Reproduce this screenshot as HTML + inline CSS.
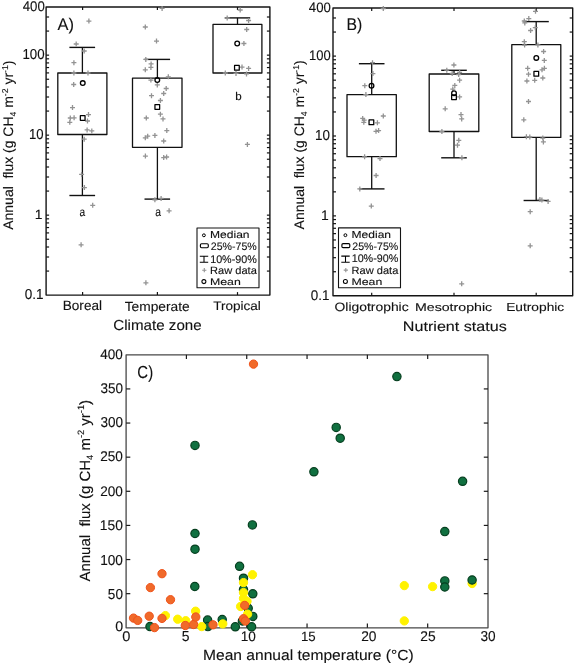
<!DOCTYPE html>
<html><head><meta charset="utf-8"><style>html,body{margin:0;padding:0;background:#fff;}svg{display:block;}</style></head><body>
<svg width="575" height="665" viewBox="0 0 575 665" font-family="&quot;Liberation Sans&quot;, sans-serif" fill="#111111" stroke-linejoin="round">
<rect width="575" height="665" fill="#fff"/>
<rect x="46.1" y="7" width="223.8" height="288.1" fill="none" stroke="#141414" stroke-width="1.4"/>
<line x1="46.1" y1="271.08" x2="49.1" y2="271.08" stroke="#141414" stroke-width="1.2"/>
<line x1="269.9" y1="271.08" x2="266.9" y2="271.08" stroke="#141414" stroke-width="1.2"/>
<line x1="46.1" y1="257" x2="49.1" y2="257" stroke="#141414" stroke-width="1.2"/>
<line x1="269.9" y1="257" x2="266.9" y2="257" stroke="#141414" stroke-width="1.2"/>
<line x1="46.1" y1="247" x2="49.1" y2="247" stroke="#141414" stroke-width="1.2"/>
<line x1="269.9" y1="247" x2="266.9" y2="247" stroke="#141414" stroke-width="1.2"/>
<line x1="46.1" y1="239.25" x2="49.1" y2="239.25" stroke="#141414" stroke-width="1.2"/>
<line x1="269.9" y1="239.25" x2="266.9" y2="239.25" stroke="#141414" stroke-width="1.2"/>
<line x1="46.1" y1="232.91" x2="49.1" y2="232.91" stroke="#141414" stroke-width="1.2"/>
<line x1="269.9" y1="232.91" x2="266.9" y2="232.91" stroke="#141414" stroke-width="1.2"/>
<line x1="46.1" y1="227.56" x2="49.1" y2="227.56" stroke="#141414" stroke-width="1.2"/>
<line x1="269.9" y1="227.56" x2="266.9" y2="227.56" stroke="#141414" stroke-width="1.2"/>
<line x1="46.1" y1="222.92" x2="49.1" y2="222.92" stroke="#141414" stroke-width="1.2"/>
<line x1="269.9" y1="222.92" x2="266.9" y2="222.92" stroke="#141414" stroke-width="1.2"/>
<line x1="46.1" y1="218.83" x2="49.1" y2="218.83" stroke="#141414" stroke-width="1.2"/>
<line x1="269.9" y1="218.83" x2="266.9" y2="218.83" stroke="#141414" stroke-width="1.2"/>
<line x1="46.1" y1="215.16" x2="49.1" y2="215.16" stroke="#141414" stroke-width="1.2"/>
<line x1="269.9" y1="215.16" x2="266.9" y2="215.16" stroke="#141414" stroke-width="1.2"/>
<line x1="46.1" y1="191.08" x2="49.1" y2="191.08" stroke="#141414" stroke-width="1.2"/>
<line x1="269.9" y1="191.08" x2="266.9" y2="191.08" stroke="#141414" stroke-width="1.2"/>
<line x1="46.1" y1="177" x2="49.1" y2="177" stroke="#141414" stroke-width="1.2"/>
<line x1="269.9" y1="177" x2="266.9" y2="177" stroke="#141414" stroke-width="1.2"/>
<line x1="46.1" y1="167" x2="49.1" y2="167" stroke="#141414" stroke-width="1.2"/>
<line x1="269.9" y1="167" x2="266.9" y2="167" stroke="#141414" stroke-width="1.2"/>
<line x1="46.1" y1="159.25" x2="49.1" y2="159.25" stroke="#141414" stroke-width="1.2"/>
<line x1="269.9" y1="159.25" x2="266.9" y2="159.25" stroke="#141414" stroke-width="1.2"/>
<line x1="46.1" y1="152.91" x2="49.1" y2="152.91" stroke="#141414" stroke-width="1.2"/>
<line x1="269.9" y1="152.91" x2="266.9" y2="152.91" stroke="#141414" stroke-width="1.2"/>
<line x1="46.1" y1="147.56" x2="49.1" y2="147.56" stroke="#141414" stroke-width="1.2"/>
<line x1="269.9" y1="147.56" x2="266.9" y2="147.56" stroke="#141414" stroke-width="1.2"/>
<line x1="46.1" y1="142.92" x2="49.1" y2="142.92" stroke="#141414" stroke-width="1.2"/>
<line x1="269.9" y1="142.92" x2="266.9" y2="142.92" stroke="#141414" stroke-width="1.2"/>
<line x1="46.1" y1="138.83" x2="49.1" y2="138.83" stroke="#141414" stroke-width="1.2"/>
<line x1="269.9" y1="138.83" x2="266.9" y2="138.83" stroke="#141414" stroke-width="1.2"/>
<line x1="46.1" y1="135.16" x2="49.1" y2="135.16" stroke="#141414" stroke-width="1.2"/>
<line x1="269.9" y1="135.16" x2="266.9" y2="135.16" stroke="#141414" stroke-width="1.2"/>
<line x1="46.1" y1="111.08" x2="49.1" y2="111.08" stroke="#141414" stroke-width="1.2"/>
<line x1="269.9" y1="111.08" x2="266.9" y2="111.08" stroke="#141414" stroke-width="1.2"/>
<line x1="46.1" y1="97" x2="49.1" y2="97" stroke="#141414" stroke-width="1.2"/>
<line x1="269.9" y1="97" x2="266.9" y2="97" stroke="#141414" stroke-width="1.2"/>
<line x1="46.1" y1="87" x2="49.1" y2="87" stroke="#141414" stroke-width="1.2"/>
<line x1="269.9" y1="87" x2="266.9" y2="87" stroke="#141414" stroke-width="1.2"/>
<line x1="46.1" y1="79.25" x2="49.1" y2="79.25" stroke="#141414" stroke-width="1.2"/>
<line x1="269.9" y1="79.25" x2="266.9" y2="79.25" stroke="#141414" stroke-width="1.2"/>
<line x1="46.1" y1="72.91" x2="49.1" y2="72.91" stroke="#141414" stroke-width="1.2"/>
<line x1="269.9" y1="72.91" x2="266.9" y2="72.91" stroke="#141414" stroke-width="1.2"/>
<line x1="46.1" y1="67.56" x2="49.1" y2="67.56" stroke="#141414" stroke-width="1.2"/>
<line x1="269.9" y1="67.56" x2="266.9" y2="67.56" stroke="#141414" stroke-width="1.2"/>
<line x1="46.1" y1="62.92" x2="49.1" y2="62.92" stroke="#141414" stroke-width="1.2"/>
<line x1="269.9" y1="62.92" x2="266.9" y2="62.92" stroke="#141414" stroke-width="1.2"/>
<line x1="46.1" y1="58.83" x2="49.1" y2="58.83" stroke="#141414" stroke-width="1.2"/>
<line x1="269.9" y1="58.83" x2="266.9" y2="58.83" stroke="#141414" stroke-width="1.2"/>
<line x1="46.1" y1="55.16" x2="49.1" y2="55.16" stroke="#141414" stroke-width="1.2"/>
<line x1="269.9" y1="55.16" x2="266.9" y2="55.16" stroke="#141414" stroke-width="1.2"/>
<line x1="46.1" y1="31.08" x2="49.1" y2="31.08" stroke="#141414" stroke-width="1.2"/>
<line x1="269.9" y1="31.08" x2="266.9" y2="31.08" stroke="#141414" stroke-width="1.2"/>
<line x1="46.1" y1="17" x2="49.1" y2="17" stroke="#141414" stroke-width="1.2"/>
<line x1="269.9" y1="17" x2="266.9" y2="17" stroke="#141414" stroke-width="1.2"/>
<line x1="82.6" y1="295.1" x2="82.6" y2="292.1" stroke="#141414" stroke-width="1.2"/>
<line x1="82.6" y1="7" x2="82.6" y2="10" stroke="#141414" stroke-width="1.2"/>
<line x1="157.4" y1="295.1" x2="157.4" y2="292.1" stroke="#141414" stroke-width="1.2"/>
<line x1="157.4" y1="7" x2="157.4" y2="10" stroke="#141414" stroke-width="1.2"/>
<line x1="237.5" y1="295.1" x2="237.5" y2="292.1" stroke="#141414" stroke-width="1.2"/>
<line x1="237.5" y1="7" x2="237.5" y2="10" stroke="#141414" stroke-width="1.2"/>
<line x1="82.4" y1="47.4" x2="82.4" y2="73" stroke="#111111" stroke-width="1.3"/>
<line x1="69.4" y1="47.4" x2="95.1" y2="47.4" stroke="#111111" stroke-width="1.4"/>
<line x1="82.4" y1="134.5" x2="82.4" y2="195.5" stroke="#111111" stroke-width="1.3"/>
<line x1="69.4" y1="195.5" x2="95.1" y2="195.5" stroke="#111111" stroke-width="1.4"/>
<rect x="57.8" y="73" width="49.1" height="61.5" fill="none" stroke="#111111" stroke-width="1.3"/>
<line x1="157.4" y1="59.4" x2="157.4" y2="78.1" stroke="#111111" stroke-width="1.3"/>
<line x1="144.5" y1="59.4" x2="170.1" y2="59.4" stroke="#111111" stroke-width="1.4"/>
<line x1="157.4" y1="147.3" x2="157.4" y2="199.1" stroke="#111111" stroke-width="1.3"/>
<line x1="144.5" y1="199.1" x2="170.1" y2="199.1" stroke="#111111" stroke-width="1.4"/>
<rect x="132.5" y="78.1" width="49.5" height="69.2" fill="none" stroke="#111111" stroke-width="1.3"/>
<line x1="237.5" y1="17.9" x2="237.5" y2="24.4" stroke="#111111" stroke-width="1.3"/>
<line x1="224.8" y1="17.9" x2="250.2" y2="17.9" stroke="#111111" stroke-width="1.4"/>
<rect x="213" y="24.4" width="48.9" height="48.6" fill="none" stroke="#111111" stroke-width="1.3"/>
<path d="M86.4 21.1h5M88.9 18.6v5M73.7 44h5M76.2 41.5v5M81.7 51h5M84.2 48.5v5M71.4 62.7h5M73.9 60.2v5M71.4 73h5M73.9 70.5v5M85.5 73h5M88 70.5v5M71.2 84.5h5M73.7 82v5M70 107.6h5M72.5 105.1v5M67.8 118h5M70.3 115.5v5M71.6 117.8h5M74.1 115.3v5M67.3 122.3h5M69.8 119.8v5M86 114.6h5M88.5 112.1v5M85 121h5M87.5 118.5v5M84.6 129.9h5M87.1 127.4v5M89.3 130.9h5M91.8 128.4v5M81.7 139.2h5M84.2 136.7v5M79.1 174.4h5M81.6 171.9v5M81.9 187.6h5M84.4 185.1v5M90.2 205.3h5M92.7 202.8v5M78.6 244.8h5M81.1 242.3v5M159.6 8.4h5M162.1 5.9v5M142.8 27h5M145.3 24.5v5M154 41.1h5M156.5 38.6v5M143.3 59.4h5M145.8 56.9v5M148.6 63.9h5M151.1 61.4v5M148.4 67.4h5M150.9 64.9v5M142.8 69.8h5M145.3 67.3v5M165.8 76.8h5M168.3 74.3v5M148.4 80.1h5M150.9 77.6v5M154.8 84.9h5M157.3 82.4v5M163.7 88.5h5M166.2 86v5M161.2 93.5h5M163.7 91v5M149 95.7h5M151.5 93.2v5M157.9 100.5h5M160.4 98v5M157.9 114.2h5M160.4 111.7v5M160.5 118.9h5M163 116.4v5M143.8 118h5M146.3 115.5v5M164.3 130.6h5M166.8 128.1v5M142.8 137.8h5M145.3 135.3v5M145.2 136.2h5M147.7 133.7v5M152.4 135.4h5M154.9 132.9v5M161.2 141h5M163.7 138.5v5M142.9 156.1h5M145.4 153.6v5M161.2 157.6h5M163.7 155.1v5M164.1 157h5M166.6 154.5v5M152.4 199.8h5M154.9 197.3v5M158.6 198.4h5M161.1 195.9v5M166.6 210.8h5M169.1 208.3v5M143.4 282.8h5M145.9 280.3v5M237.7 10h5M240.2 7.5v5M224.7 18h5M227.2 15.5v5M246.1 20.5h5M248.6 18v5M244.2 29.5h5M246.7 27v5M241.4 43.5h5M243.9 41v5M239.5 67.1h5M242 64.6v5M246.1 68.4h5M248.6 65.9v5M222.8 73h5M225.3 70.5v5M233.5 73.4h5M236 70.9v5M244 73.9h5M246.5 71.4v5M244.9 144.4h5M247.4 141.9v5" stroke="#939393" stroke-width="1.3" fill="none"/>
<circle cx="82.75" cy="83.1" r="2.35" fill="none" stroke="#000" stroke-width="1.3"/>
<rect x="80.35" y="115.65" width="4.7" height="4.7" fill="none" stroke="#000" stroke-width="1.25"/>
<circle cx="157.3" cy="80.1" r="2.35" fill="none" stroke="#000" stroke-width="1.3"/>
<rect x="154.95" y="104.55" width="4.7" height="4.7" fill="none" stroke="#000" stroke-width="1.25"/>
<circle cx="237.2" cy="43.5" r="2.35" fill="none" stroke="#000" stroke-width="1.3"/>
<rect x="234.55" y="65.45" width="4.7" height="4.7" fill="none" stroke="#000" stroke-width="1.25"/>
<rect x="197" y="228" width="62.0" height="59.8" fill="#fff" stroke="#141414" stroke-width="1.1"/>
<circle cx="203.9" cy="235.3" r="1.45" fill="none" stroke="#000" stroke-width="1"/>
<rect x="200.4" y="243.7" width="7.9" height="4.0" rx="1.2" fill="none" stroke="#000" stroke-width="1.15"/>
<path d="M199.8 256.2h8.4M199.8 262.3h8.4M204 256.2v6.1" stroke="#000" stroke-width="1.05" fill="none"/>
<path d="M202.2 270.2h4.2M204.3 268.1v4.2" stroke="#939393" stroke-width="1.1" fill="none"/>
<circle cx="203.9" cy="281.6" r="2.0" fill="none" stroke="#000" stroke-width="1.05"/>
<rect x="333" y="8" width="239.7" height="287.7" fill="none" stroke="#141414" stroke-width="1.4"/>
<line x1="333" y1="271.75" x2="336" y2="271.75" stroke="#141414" stroke-width="1.2"/>
<line x1="572.7" y1="271.75" x2="569.7" y2="271.75" stroke="#141414" stroke-width="1.2"/>
<line x1="333" y1="257.68" x2="336" y2="257.68" stroke="#141414" stroke-width="1.2"/>
<line x1="572.7" y1="257.68" x2="569.7" y2="257.68" stroke="#141414" stroke-width="1.2"/>
<line x1="333" y1="247.7" x2="336" y2="247.7" stroke="#141414" stroke-width="1.2"/>
<line x1="572.7" y1="247.7" x2="569.7" y2="247.7" stroke="#141414" stroke-width="1.2"/>
<line x1="333" y1="239.96" x2="336" y2="239.96" stroke="#141414" stroke-width="1.2"/>
<line x1="572.7" y1="239.96" x2="569.7" y2="239.96" stroke="#141414" stroke-width="1.2"/>
<line x1="333" y1="233.63" x2="336" y2="233.63" stroke="#141414" stroke-width="1.2"/>
<line x1="572.7" y1="233.63" x2="569.7" y2="233.63" stroke="#141414" stroke-width="1.2"/>
<line x1="333" y1="228.28" x2="336" y2="228.28" stroke="#141414" stroke-width="1.2"/>
<line x1="572.7" y1="228.28" x2="569.7" y2="228.28" stroke="#141414" stroke-width="1.2"/>
<line x1="333" y1="223.65" x2="336" y2="223.65" stroke="#141414" stroke-width="1.2"/>
<line x1="572.7" y1="223.65" x2="569.7" y2="223.65" stroke="#141414" stroke-width="1.2"/>
<line x1="333" y1="219.56" x2="336" y2="219.56" stroke="#141414" stroke-width="1.2"/>
<line x1="572.7" y1="219.56" x2="569.7" y2="219.56" stroke="#141414" stroke-width="1.2"/>
<line x1="333" y1="215.9" x2="336" y2="215.9" stroke="#141414" stroke-width="1.2"/>
<line x1="572.7" y1="215.9" x2="569.7" y2="215.9" stroke="#141414" stroke-width="1.2"/>
<line x1="333" y1="191.85" x2="336" y2="191.85" stroke="#141414" stroke-width="1.2"/>
<line x1="572.7" y1="191.85" x2="569.7" y2="191.85" stroke="#141414" stroke-width="1.2"/>
<line x1="333" y1="177.78" x2="336" y2="177.78" stroke="#141414" stroke-width="1.2"/>
<line x1="572.7" y1="177.78" x2="569.7" y2="177.78" stroke="#141414" stroke-width="1.2"/>
<line x1="333" y1="167.8" x2="336" y2="167.8" stroke="#141414" stroke-width="1.2"/>
<line x1="572.7" y1="167.8" x2="569.7" y2="167.8" stroke="#141414" stroke-width="1.2"/>
<line x1="333" y1="160.06" x2="336" y2="160.06" stroke="#141414" stroke-width="1.2"/>
<line x1="572.7" y1="160.06" x2="569.7" y2="160.06" stroke="#141414" stroke-width="1.2"/>
<line x1="333" y1="153.73" x2="336" y2="153.73" stroke="#141414" stroke-width="1.2"/>
<line x1="572.7" y1="153.73" x2="569.7" y2="153.73" stroke="#141414" stroke-width="1.2"/>
<line x1="333" y1="148.38" x2="336" y2="148.38" stroke="#141414" stroke-width="1.2"/>
<line x1="572.7" y1="148.38" x2="569.7" y2="148.38" stroke="#141414" stroke-width="1.2"/>
<line x1="333" y1="143.75" x2="336" y2="143.75" stroke="#141414" stroke-width="1.2"/>
<line x1="572.7" y1="143.75" x2="569.7" y2="143.75" stroke="#141414" stroke-width="1.2"/>
<line x1="333" y1="139.66" x2="336" y2="139.66" stroke="#141414" stroke-width="1.2"/>
<line x1="572.7" y1="139.66" x2="569.7" y2="139.66" stroke="#141414" stroke-width="1.2"/>
<line x1="333" y1="136" x2="336" y2="136" stroke="#141414" stroke-width="1.2"/>
<line x1="572.7" y1="136" x2="569.7" y2="136" stroke="#141414" stroke-width="1.2"/>
<line x1="333" y1="111.95" x2="336" y2="111.95" stroke="#141414" stroke-width="1.2"/>
<line x1="572.7" y1="111.95" x2="569.7" y2="111.95" stroke="#141414" stroke-width="1.2"/>
<line x1="333" y1="97.88" x2="336" y2="97.88" stroke="#141414" stroke-width="1.2"/>
<line x1="572.7" y1="97.88" x2="569.7" y2="97.88" stroke="#141414" stroke-width="1.2"/>
<line x1="333" y1="87.9" x2="336" y2="87.9" stroke="#141414" stroke-width="1.2"/>
<line x1="572.7" y1="87.9" x2="569.7" y2="87.9" stroke="#141414" stroke-width="1.2"/>
<line x1="333" y1="80.16" x2="336" y2="80.16" stroke="#141414" stroke-width="1.2"/>
<line x1="572.7" y1="80.16" x2="569.7" y2="80.16" stroke="#141414" stroke-width="1.2"/>
<line x1="333" y1="73.83" x2="336" y2="73.83" stroke="#141414" stroke-width="1.2"/>
<line x1="572.7" y1="73.83" x2="569.7" y2="73.83" stroke="#141414" stroke-width="1.2"/>
<line x1="333" y1="68.48" x2="336" y2="68.48" stroke="#141414" stroke-width="1.2"/>
<line x1="572.7" y1="68.48" x2="569.7" y2="68.48" stroke="#141414" stroke-width="1.2"/>
<line x1="333" y1="63.85" x2="336" y2="63.85" stroke="#141414" stroke-width="1.2"/>
<line x1="572.7" y1="63.85" x2="569.7" y2="63.85" stroke="#141414" stroke-width="1.2"/>
<line x1="333" y1="59.76" x2="336" y2="59.76" stroke="#141414" stroke-width="1.2"/>
<line x1="572.7" y1="59.76" x2="569.7" y2="59.76" stroke="#141414" stroke-width="1.2"/>
<line x1="333" y1="56.1" x2="336" y2="56.1" stroke="#141414" stroke-width="1.2"/>
<line x1="572.7" y1="56.1" x2="569.7" y2="56.1" stroke="#141414" stroke-width="1.2"/>
<line x1="333" y1="32.05" x2="336" y2="32.05" stroke="#141414" stroke-width="1.2"/>
<line x1="572.7" y1="32.05" x2="569.7" y2="32.05" stroke="#141414" stroke-width="1.2"/>
<line x1="333" y1="17.98" x2="336" y2="17.98" stroke="#141414" stroke-width="1.2"/>
<line x1="572.7" y1="17.98" x2="569.7" y2="17.98" stroke="#141414" stroke-width="1.2"/>
<line x1="371.7" y1="295.7" x2="371.7" y2="292.7" stroke="#141414" stroke-width="1.2"/>
<line x1="371.7" y1="8" x2="371.7" y2="11" stroke="#141414" stroke-width="1.2"/>
<line x1="454" y1="295.7" x2="454" y2="292.7" stroke="#141414" stroke-width="1.2"/>
<line x1="454" y1="8" x2="454" y2="11" stroke="#141414" stroke-width="1.2"/>
<line x1="536.2" y1="295.7" x2="536.2" y2="292.7" stroke="#141414" stroke-width="1.2"/>
<line x1="536.2" y1="8" x2="536.2" y2="11" stroke="#141414" stroke-width="1.2"/>
<line x1="371.7" y1="63.7" x2="371.7" y2="94.6" stroke="#111111" stroke-width="1.3"/>
<line x1="358.9" y1="63.7" x2="384.5" y2="63.7" stroke="#111111" stroke-width="1.4"/>
<line x1="371.7" y1="156.7" x2="371.7" y2="188.9" stroke="#111111" stroke-width="1.3"/>
<line x1="358.9" y1="188.9" x2="384.5" y2="188.9" stroke="#111111" stroke-width="1.4"/>
<rect x="347" y="94.6" width="49.3" height="62.1" fill="none" stroke="#111111" stroke-width="1.3"/>
<line x1="454" y1="70.3" x2="454" y2="74" stroke="#111111" stroke-width="1.3"/>
<line x1="441.2" y1="70.3" x2="466.8" y2="70.3" stroke="#111111" stroke-width="1.4"/>
<line x1="454" y1="131.5" x2="454" y2="157.8" stroke="#111111" stroke-width="1.3"/>
<line x1="441.2" y1="157.8" x2="466.8" y2="157.8" stroke="#111111" stroke-width="1.4"/>
<rect x="429.2" y="74" width="49.6" height="57.5" fill="none" stroke="#111111" stroke-width="1.3"/>
<line x1="536.2" y1="21.6" x2="536.2" y2="44.6" stroke="#111111" stroke-width="1.3"/>
<line x1="523.6" y1="21.6" x2="548.8" y2="21.6" stroke="#111111" stroke-width="1.4"/>
<line x1="536.2" y1="137.4" x2="536.2" y2="200.5" stroke="#111111" stroke-width="1.3"/>
<line x1="523.6" y1="200.5" x2="548.8" y2="200.5" stroke="#111111" stroke-width="1.4"/>
<rect x="511.8" y="44.6" width="49" height="92.8" fill="none" stroke="#111111" stroke-width="1.3"/>
<path d="M380.8 8.5h5M383.3 6v5M370 62.7h5M372.5 60.2v5M370.4 73.6h5M372.9 71.1v5M362.3 85.7h5M364.8 83.2v5M363.4 94.6h5M365.9 92.1v5M380.8 116h5M383.3 113.5v5M360.2 118.4h5M362.7 115.9v5M361.7 120.2h5M364.2 117.7v5M361.3 122.3h5M363.8 119.8v5M374.9 122.8h5M377.4 120.3v5M373.5 131.3h5M376 128.8v5M376.1 130.6h5M378.6 128.1v5M362.1 156.8h5M364.6 154.3v5M377.5 158.6h5M380 156.1v5M373.6 175.5h5M376.1 173v5M357.3 188.9h5M359.8 186.4v5M368.8 206.1h5M371.3 203.6v5M451.4 65h5M453.9 62.5v5M444.3 70.2h5M446.8 67.7v5M449.7 73.5h5M452.2 71v5M457.1 72.4h5M459.6 69.9v5M456.2 74.6h5M458.7 72.1v5M457.1 80.2h5M459.6 77.7v5M452.3 85.4h5M454.8 82.9v5M450.3 89.1h5M452.8 86.6v5M457.1 96.9h5M459.6 94.4v5M442.7 108.8h5M445.2 106.3v5M458.5 114.6h5M461 112.1v5M459.2 118.9h5M461.7 116.4v5M439.4 131.6h5M441.9 129.1v5M456.3 140.3h5M458.8 137.8v5M455 145.2h5M457.5 142.7v5M459.4 157.8h5M461.9 155.3v5M459.2 283.8h5M461.7 281.3v5M533 11.3h5M535.5 8.8v5M526.3 18.6h5M528.8 16.1v5M521.8 21h5M524.3 18.5v5M522.3 22.9h5M524.8 20.4v5M532.8 27.7h5M535.3 25.2v5M528.1 30.5h5M530.6 28v5M521.8 41.7h5M524.3 39.2v5M522.1 45.1h5M524.6 42.6v5M535.4 44.9h5M537.9 42.4v5M541.1 51.5h5M543.6 49v5M541.8 60.4h5M544.3 57.9v5M525.2 68.3h5M527.7 65.8v5M541.9 68.3h5M544.4 65.8v5M539.5 69.8h5M542 67.3v5M526 74.2h5M528.5 71.7v5M524.4 81h5M526.9 78.5v5M532.2 80.3h5M534.7 77.8v5M540.3 78h5M542.8 75.5v5M526 101.5h5M528.5 99v5M521.3 119.8h5M523.8 117.3v5M523.9 136.7h5M526.4 134.2v5M527.3 137h5M529.8 134.5v5M540.3 138.1h5M542.8 135.6v5M540.9 141.9h5M543.4 139.4v5M537.4 199.5h5M539.9 197v5M539.4 200.1h5M541.9 197.6v5M545.6 201.4h5M548.1 198.9v5M527.7 211.7h5M530.2 209.2v5M527.7 245.8h5M530.2 243.3v5" stroke="#939393" stroke-width="1.3" fill="none"/>
<circle cx="371.5" cy="85.7" r="2.35" fill="none" stroke="#000" stroke-width="1.3"/>
<rect x="369.05" y="119.95" width="4.7" height="4.7" fill="none" stroke="#000" stroke-width="1.25"/>
<circle cx="454" cy="93.3" r="2.35" fill="none" stroke="#000" stroke-width="1.3"/>
<rect x="451.65" y="94.85" width="4.7" height="4.7" fill="none" stroke="#000" stroke-width="1.25"/>
<circle cx="536.3" cy="57.9" r="2.35" fill="none" stroke="#000" stroke-width="1.3"/>
<rect x="533.95" y="71.45" width="4.7" height="4.7" fill="none" stroke="#000" stroke-width="1.25"/>
<rect x="338.5" y="227.9" width="62.0" height="59.8" fill="#fff" stroke="#141414" stroke-width="1.1"/>
<circle cx="345.4" cy="235.2" r="1.45" fill="none" stroke="#000" stroke-width="1"/>
<rect x="341.9" y="243.6" width="7.9" height="4.0" rx="1.2" fill="none" stroke="#000" stroke-width="1.15"/>
<path d="M341.3 256.1h8.4M341.3 262.2h8.4M345.5 256.1v6.1" stroke="#000" stroke-width="1.05" fill="none"/>
<path d="M343.7 270.1h4.2M345.8 268v4.2" stroke="#939393" stroke-width="1.1" fill="none"/>
<circle cx="345.4" cy="281.5" r="2.0" fill="none" stroke="#000" stroke-width="1.05"/>
<rect x="126.1" y="354.8" width="361.9" height="273" fill="none" stroke="#484848" stroke-width="1.3"/>
<line x1="126.1" y1="593.67" x2="130.3" y2="593.67" stroke="#1a1a1a" stroke-width="1.2"/>
<line x1="488" y1="593.67" x2="483.8" y2="593.67" stroke="#1a1a1a" stroke-width="1.2"/>
<line x1="126.1" y1="559.55" x2="130.3" y2="559.55" stroke="#1a1a1a" stroke-width="1.2"/>
<line x1="488" y1="559.55" x2="483.8" y2="559.55" stroke="#1a1a1a" stroke-width="1.2"/>
<line x1="126.1" y1="525.42" x2="130.3" y2="525.42" stroke="#1a1a1a" stroke-width="1.2"/>
<line x1="488" y1="525.42" x2="483.8" y2="525.42" stroke="#1a1a1a" stroke-width="1.2"/>
<line x1="126.1" y1="491.3" x2="130.3" y2="491.3" stroke="#1a1a1a" stroke-width="1.2"/>
<line x1="488" y1="491.3" x2="483.8" y2="491.3" stroke="#1a1a1a" stroke-width="1.2"/>
<line x1="126.1" y1="457.17" x2="130.3" y2="457.17" stroke="#1a1a1a" stroke-width="1.2"/>
<line x1="488" y1="457.17" x2="483.8" y2="457.17" stroke="#1a1a1a" stroke-width="1.2"/>
<line x1="126.1" y1="423.05" x2="130.3" y2="423.05" stroke="#1a1a1a" stroke-width="1.2"/>
<line x1="488" y1="423.05" x2="483.8" y2="423.05" stroke="#1a1a1a" stroke-width="1.2"/>
<line x1="126.1" y1="388.92" x2="130.3" y2="388.92" stroke="#1a1a1a" stroke-width="1.2"/>
<line x1="488" y1="388.92" x2="483.8" y2="388.92" stroke="#1a1a1a" stroke-width="1.2"/>
<line x1="186.42" y1="627.8" x2="186.42" y2="623.6" stroke="#1a1a1a" stroke-width="1.2"/>
<line x1="186.42" y1="354.8" x2="186.42" y2="359" stroke="#1a1a1a" stroke-width="1.2"/>
<line x1="246.73" y1="627.8" x2="246.73" y2="623.6" stroke="#1a1a1a" stroke-width="1.2"/>
<line x1="246.73" y1="354.8" x2="246.73" y2="359" stroke="#1a1a1a" stroke-width="1.2"/>
<line x1="307.05" y1="627.8" x2="307.05" y2="623.6" stroke="#1a1a1a" stroke-width="1.2"/>
<line x1="307.05" y1="354.8" x2="307.05" y2="359" stroke="#1a1a1a" stroke-width="1.2"/>
<line x1="367.37" y1="627.8" x2="367.37" y2="623.6" stroke="#1a1a1a" stroke-width="1.2"/>
<line x1="367.37" y1="354.8" x2="367.37" y2="359" stroke="#1a1a1a" stroke-width="1.2"/>
<line x1="427.68" y1="627.8" x2="427.68" y2="623.6" stroke="#1a1a1a" stroke-width="1.2"/>
<line x1="427.68" y1="354.8" x2="427.68" y2="359" stroke="#1a1a1a" stroke-width="1.2"/>
<circle cx="396.9" cy="376.6" r="4.15" fill="#107040" stroke="#063f1f" stroke-width="1.2"/>
<circle cx="336.2" cy="427.4" r="4.15" fill="#107040" stroke="#063f1f" stroke-width="1.2"/>
<circle cx="340.2" cy="438.2" r="4.15" fill="#107040" stroke="#063f1f" stroke-width="1.2"/>
<circle cx="313.9" cy="471.8" r="4.15" fill="#107040" stroke="#063f1f" stroke-width="1.2"/>
<circle cx="462.6" cy="481.3" r="4.15" fill="#107040" stroke="#063f1f" stroke-width="1.2"/>
<circle cx="252.4" cy="524.9" r="4.15" fill="#107040" stroke="#063f1f" stroke-width="1.2"/>
<circle cx="444.8" cy="531.6" r="4.15" fill="#107040" stroke="#063f1f" stroke-width="1.2"/>
<circle cx="195" cy="445.4" r="4.15" fill="#107040" stroke="#063f1f" stroke-width="1.2"/>
<circle cx="195" cy="533.5" r="4.15" fill="#107040" stroke="#063f1f" stroke-width="1.2"/>
<circle cx="195" cy="549.2" r="4.15" fill="#107040" stroke="#063f1f" stroke-width="1.2"/>
<circle cx="194.8" cy="586.5" r="4.15" fill="#107040" stroke="#063f1f" stroke-width="1.2"/>
<circle cx="239.6" cy="566.3" r="4.15" fill="#107040" stroke="#063f1f" stroke-width="1.2"/>
<circle cx="243.5" cy="578.2" r="4.15" fill="#107040" stroke="#063f1f" stroke-width="1.2"/>
<circle cx="243.5" cy="589.7" r="4.15" fill="#107040" stroke="#063f1f" stroke-width="1.2"/>
<circle cx="252.8" cy="593.8" r="4.15" fill="#107040" stroke="#063f1f" stroke-width="1.2"/>
<circle cx="248.2" cy="608.3" r="4.15" fill="#107040" stroke="#063f1f" stroke-width="1.2"/>
<circle cx="252.8" cy="616.4" r="4.15" fill="#107040" stroke="#063f1f" stroke-width="1.2"/>
<circle cx="242.4" cy="621" r="4.15" fill="#107040" stroke="#063f1f" stroke-width="1.2"/>
<circle cx="235.3" cy="626.8" r="4.15" fill="#107040" stroke="#063f1f" stroke-width="1.2"/>
<circle cx="251.6" cy="626.8" r="4.15" fill="#107040" stroke="#063f1f" stroke-width="1.2"/>
<circle cx="207.6" cy="620.1" r="4.15" fill="#107040" stroke="#063f1f" stroke-width="1.2"/>
<circle cx="207.9" cy="626.6" r="4.15" fill="#107040" stroke="#063f1f" stroke-width="1.2"/>
<circle cx="222.2" cy="619.6" r="4.15" fill="#107040" stroke="#063f1f" stroke-width="1.2"/>
<circle cx="150" cy="626.6" r="4.15" fill="#107040" stroke="#063f1f" stroke-width="1.2"/>
<circle cx="444.8" cy="580.9" r="4.15" fill="#107040" stroke="#063f1f" stroke-width="1.2"/>
<circle cx="444.8" cy="587" r="4.15" fill="#107040" stroke="#063f1f" stroke-width="1.2"/>
<circle cx="252.5" cy="574.7" r="4.15" fill="#fff200" stroke="#fff200" stroke-width="1.0"/>
<circle cx="243.5" cy="582.6" r="4.15" fill="#fff200" stroke="#fff200" stroke-width="1.0"/>
<circle cx="243.5" cy="592.6" r="4.15" fill="#fff200" stroke="#fff200" stroke-width="1.0"/>
<circle cx="243.5" cy="598.4" r="4.15" fill="#fff200" stroke="#fff200" stroke-width="1.0"/>
<circle cx="247" cy="601.3" r="4.15" fill="#fff200" stroke="#fff200" stroke-width="1.0"/>
<circle cx="240.6" cy="606.5" r="4.15" fill="#fff200" stroke="#fff200" stroke-width="1.0"/>
<circle cx="247.6" cy="614.1" r="4.15" fill="#fff200" stroke="#fff200" stroke-width="1.0"/>
<circle cx="222.8" cy="623.9" r="4.15" fill="#fff200" stroke="#fff200" stroke-width="1.0"/>
<circle cx="195.6" cy="611.2" r="4.15" fill="#fff200" stroke="#fff200" stroke-width="1.0"/>
<circle cx="185.7" cy="620.7" r="4.15" fill="#fff200" stroke="#fff200" stroke-width="1.0"/>
<circle cx="201.7" cy="626.6" r="4.15" fill="#fff200" stroke="#fff200" stroke-width="1.0"/>
<circle cx="165.4" cy="615.6" r="4.15" fill="#fff200" stroke="#fff200" stroke-width="1.0"/>
<circle cx="177.7" cy="619.2" r="4.15" fill="#fff200" stroke="#fff200" stroke-width="1.0"/>
<circle cx="404.3" cy="585.6" r="4.15" fill="#fff200" stroke="#fff200" stroke-width="1.0"/>
<circle cx="432.6" cy="586.6" r="4.15" fill="#fff200" stroke="#fff200" stroke-width="1.0"/>
<circle cx="472.1" cy="583.5" r="4.15" fill="#fff200" stroke="#fff200" stroke-width="1.0"/>
<circle cx="404.3" cy="620.9" r="4.15" fill="#fff200" stroke="#fff200" stroke-width="1.0"/>
<circle cx="253.5" cy="364.1" r="4.15" fill="#f06a2a" stroke="#f0521a" stroke-width="1.0"/>
<circle cx="162" cy="573.7" r="4.15" fill="#f06a2a" stroke="#f0521a" stroke-width="1.0"/>
<circle cx="150.4" cy="587.6" r="4.15" fill="#f06a2a" stroke="#f0521a" stroke-width="1.0"/>
<circle cx="170.5" cy="599.7" r="4.15" fill="#f06a2a" stroke="#f0521a" stroke-width="1.0"/>
<circle cx="133.5" cy="618.1" r="4.15" fill="#f06a2a" stroke="#f0521a" stroke-width="1.0"/>
<circle cx="137.7" cy="620.4" r="4.15" fill="#f06a2a" stroke="#f0521a" stroke-width="1.0"/>
<circle cx="149.2" cy="616.2" r="4.15" fill="#f06a2a" stroke="#f0521a" stroke-width="1.0"/>
<circle cx="162" cy="618.4" r="4.15" fill="#f06a2a" stroke="#f0521a" stroke-width="1.0"/>
<circle cx="154.5" cy="627.6" r="4.15" fill="#f06a2a" stroke="#f0521a" stroke-width="1.0"/>
<circle cx="185.3" cy="625.5" r="4.15" fill="#f06a2a" stroke="#f0521a" stroke-width="1.0"/>
<circle cx="193.6" cy="624.5" r="4.15" fill="#f06a2a" stroke="#f0521a" stroke-width="1.0"/>
<circle cx="195.8" cy="617" r="4.15" fill="#f06a2a" stroke="#f0521a" stroke-width="1.0"/>
<circle cx="213" cy="624.8" r="4.15" fill="#f06a2a" stroke="#f0521a" stroke-width="1.0"/>
<circle cx="244.7" cy="605.4" r="4.15" fill="#f06a2a" stroke="#f0521a" stroke-width="1.0"/>
<circle cx="243.5" cy="618.7" r="4.15" fill="#f06a2a" stroke="#f0521a" stroke-width="1.0"/>
<circle cx="245.3" cy="621" r="4.15" fill="#f06a2a" stroke="#f0521a" stroke-width="1.0"/>
<circle cx="472.1" cy="580" r="4.15" fill="#107040" stroke="#063f1f" stroke-width="1.2"/>
<defs><filter id="gs" x="0" y="0" width="575" height="665" filterUnits="userSpaceOnUse" color-interpolation-filters="sRGB"><feColorMatrix type="saturate" values="0"/></filter></defs>
<g filter="url(#gs)" stroke="#111" stroke-width="0.12" text-rendering="geometricPrecision">
<text x="210.01" y="238.1" font-size="10.03" textLength="39.57" lengthAdjust="spacingAndGlyphs" >Median</text>
<text x="210.77" y="250" font-size="10.9" textLength="46.01" lengthAdjust="spacingAndGlyphs" >25%-75%</text>
<text x="210.18" y="262.5" font-size="11.05" textLength="46.6" lengthAdjust="spacingAndGlyphs" >10%-90%</text>
<text x="210.09" y="273.7" font-size="10.61" textLength="46.71" lengthAdjust="spacingAndGlyphs" >Raw data</text>
<text x="209.99" y="285" font-size="9.59" textLength="30.81" lengthAdjust="spacingAndGlyphs" >Mean</text>
<text x="351.51" y="238" font-size="10.03" textLength="39.57" lengthAdjust="spacingAndGlyphs" >Median</text>
<text x="352.27" y="249.9" font-size="10.9" textLength="46.01" lengthAdjust="spacingAndGlyphs" >25%-75%</text>
<text x="351.68" y="262.4" font-size="11.05" textLength="46.6" lengthAdjust="spacingAndGlyphs" >10%-90%</text>
<text x="351.59" y="273.6" font-size="10.61" textLength="46.71" lengthAdjust="spacingAndGlyphs" >Raw data</text>
<text x="351.49" y="284.9" font-size="9.59" textLength="30.81" lengthAdjust="spacingAndGlyphs" >Mean</text>
<text x="22.7" y="11.1" font-size="14.1" textLength="22.12" lengthAdjust="spacingAndGlyphs" >400</text>
<text x="22.49" y="59.1" font-size="14.39" textLength="22.13" lengthAdjust="spacingAndGlyphs" >100</text>
<text x="28.9" y="139.2" font-size="14.39" textLength="14.61" lengthAdjust="spacingAndGlyphs" >10</text>
<text x="34.84" y="219.1" font-size="13.37" textLength="7.74" lengthAdjust="spacingAndGlyphs" >1</text>
<text x="24.77" y="299.1" font-size="14.39" textLength="18.79" lengthAdjust="spacingAndGlyphs" >0.1</text>
<text x="308.8" y="11.7" font-size="13.66" textLength="22.02" lengthAdjust="spacingAndGlyphs" >400</text>
<text x="309.01" y="60.1" font-size="13.95" textLength="21.7" lengthAdjust="spacingAndGlyphs" >100</text>
<text x="314.98" y="140.1" font-size="14.39" textLength="14.95" lengthAdjust="spacingAndGlyphs" >10</text>
<text x="320.94" y="219.9" font-size="13.66" textLength="7.74" lengthAdjust="spacingAndGlyphs" >1</text>
<text x="310.68" y="299.9" font-size="14.1" textLength="18.68" lengthAdjust="spacingAndGlyphs" >0.1</text>
<text x="57.57" y="29.7" font-size="16.86" textLength="16.45" lengthAdjust="spacingAndGlyphs" >A)</text>
<text x="346.51" y="29.8" font-size="17.01" textLength="15.77" lengthAdjust="spacingAndGlyphs" >B)</text>
<text x="62.79" y="310.3" font-size="13.52" textLength="39.22" lengthAdjust="spacingAndGlyphs" >Boreal</text>
<text x="124.7" y="310.7" font-size="13.23" textLength="65" lengthAdjust="spacingAndGlyphs" >Temperate</text>
<text x="213.2" y="310.4" font-size="12.28" textLength="47.7" lengthAdjust="spacingAndGlyphs" >Tropical</text>
<text x="113.33" y="330.3" font-size="14.49" textLength="88.34" lengthAdjust="spacingAndGlyphs" >Climate zone</text>
<text x="334.54" y="311" font-size="12.14" textLength="74.12" lengthAdjust="spacingAndGlyphs" >Oligotrophic</text>
<text x="414.94" y="311" font-size="11.18" textLength="77.24" lengthAdjust="spacingAndGlyphs" >Mesotrophic</text>
<text x="506.17" y="311" font-size="11.73" textLength="58.09" lengthAdjust="spacingAndGlyphs" >Eutrophic</text>
<text x="402.88" y="331.3" font-size="13.66" textLength="103.9" lengthAdjust="spacingAndGlyphs" >Nutrient status</text>
<text x="79.47" y="216.4" font-size="12.08" textLength="5.63" lengthAdjust="spacingAndGlyphs" >a</text>
<text x="155.36" y="216.4" font-size="12.27" textLength="5.74" lengthAdjust="spacingAndGlyphs" >a</text>
<text x="235.15" y="99.6" font-size="11.18" textLength="6.43" lengthAdjust="spacingAndGlyphs" >b</text>
<text transform="translate(13 229.7) rotate(-90)" x="0" y="0" font-size="13.8" textLength="169.1" lengthAdjust="spacingAndGlyphs">Annual&#160; flux (g CH<tspan font-size="8.56" dy="3.04">4</tspan><tspan dy="-3.04"> m</tspan><tspan font-size="8.56" dy="-5.24">-2</tspan><tspan dy="5.24"> yr</tspan><tspan font-size="8.56" dy="-5.24">-1</tspan><tspan dy="5.24">)</tspan></text>
<text transform="translate(304.3 229.4) rotate(-90)" x="0" y="0" font-size="13.8" textLength="169.1" lengthAdjust="spacingAndGlyphs">Annual&#160; flux (g CH<tspan font-size="8.56" dy="3.04">4</tspan><tspan dy="-3.04"> m</tspan><tspan font-size="8.56" dy="-5.24">-2</tspan><tspan dy="5.24"> yr</tspan><tspan font-size="8.56" dy="-5.24">-1</tspan><tspan dy="5.24">)</tspan></text>
<text x="115.24" y="630.8" font-size="13.95" textLength="7.91" lengthAdjust="spacingAndGlyphs" >0</text>
<text x="107.86" y="598.9" font-size="14.39" textLength="15.07" lengthAdjust="spacingAndGlyphs" >50</text>
<text x="100.16" y="564.6" font-size="14.39" textLength="22.77" lengthAdjust="spacingAndGlyphs" >100</text>
<text x="99.85" y="529.67" font-size="14.1" textLength="23.1" lengthAdjust="spacingAndGlyphs" >150</text>
<text x="100.22" y="495.6" font-size="13.95" textLength="22.72" lengthAdjust="spacingAndGlyphs" >200</text>
<text x="100.22" y="461.42" font-size="14.1" textLength="22.72" lengthAdjust="spacingAndGlyphs" >250</text>
<text x="100.39" y="427.3" font-size="14.39" textLength="22.54" lengthAdjust="spacingAndGlyphs" >300</text>
<text x="100.39" y="393.17" font-size="14.1" textLength="22.54" lengthAdjust="spacingAndGlyphs" >350</text>
<text x="100.29" y="358.8" font-size="13.95" textLength="22.54" lengthAdjust="spacingAndGlyphs" >400</text>
<text x="122.33" y="641.3" font-size="14.1" textLength="8.14" lengthAdjust="spacingAndGlyphs" >0</text>
<text x="181.74" y="641.4" font-size="14.39" textLength="7.74" lengthAdjust="spacingAndGlyphs" >5</text>
<text x="240.66" y="640.9" font-size="13.66" textLength="15.17" lengthAdjust="spacingAndGlyphs" >10</text>
<text x="300.89" y="641" font-size="13.52" textLength="14.77" lengthAdjust="spacingAndGlyphs" >15</text>
<text x="361.21" y="641.2" font-size="14.1" textLength="15.33" lengthAdjust="spacingAndGlyphs" >20</text>
<text x="420.3" y="641.2" font-size="14.1" textLength="15.38" lengthAdjust="spacingAndGlyphs" >25</text>
<text x="480.48" y="641.4" font-size="14.39" textLength="15.15" lengthAdjust="spacingAndGlyphs" >30</text>
<text x="137.34" y="377.6" font-size="17.57" textLength="15.79" lengthAdjust="spacingAndGlyphs" >C)</text>
<text x="203.02" y="659.7" font-size="14.68" textLength="210.64" lengthAdjust="spacingAndGlyphs" >Mean annual temperature (&#176;C)</text>
<text transform="translate(89.8 581.6) rotate(-90)" x="0" y="0" font-size="14.8" textLength="181.7" lengthAdjust="spacingAndGlyphs">Annual&#160; flux (g CH<tspan font-size="9.18" dy="3.26">4</tspan><tspan dy="-3.26"> m</tspan><tspan font-size="9.18" dy="-5.62">-2</tspan><tspan dy="5.62"> yr</tspan><tspan font-size="9.18" dy="-5.62">-1</tspan><tspan dy="5.62">)</tspan></text>
</g>
</svg>
</body></html>
